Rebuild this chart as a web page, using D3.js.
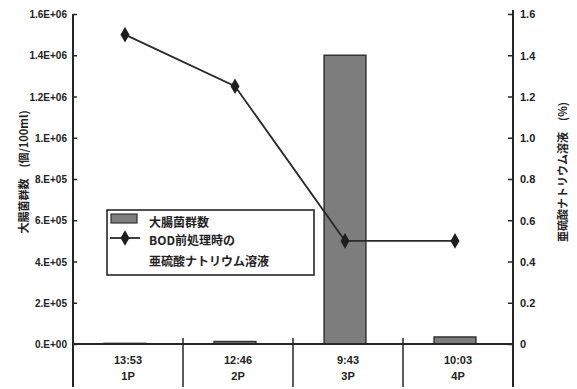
<!DOCTYPE html>
<html>
<head>
<meta charset="utf-8">
<script src="https://cdn.jsdelivr.net/npm/d3@7"></script>
<style>
  html, body { margin: 0; padding: 0; background: #fff; }
  svg { display: block; font-family: "Noto Sans CJK JP", "DejaVu Sans", sans-serif; }
  .tick text { fill: #222; }
</style>
</head>
<body>
<svg id="chart" width="577" height="389"></svg>
<script>
// Sampling points: time of sampling and point id
const sampleTimes = ["13:53", "12:46", "9:43", "10:03"];
const samplePoints = ["1P", "2P", "3P", "4P"];

// Coliform count (per 100 ml), bars on the left axis
const coliformCounts = [3000, 12000, 1400000, 34000];

// Sodium sulfite solution added during BOD pretreatment (%), line on the right axis
const sulfiteAdded = [1.5, 1.25, 0.5, 0.5];

// Axis ticks
const leftTickValues = [0, 200000, 400000, 600000, 800000, 1000000, 1200000, 1400000, 1600000];
const leftTickLabels = ["0.E+00", "2.E+05", "4.E+05", "6.E+05", "8.E+05", "1.E+06", "1.2E+06", "1.4E+06", "1.6E+06"];
const rightTickValues = [0, 0.2, 0.4, 0.6, 0.8, 1.0, 1.2, 1.4, 1.6];
const rightTickLabels = ["0", "0.2", "0.4", "0.6", "0.8", "1.0", "1.2", "1.4", "1.6"];

const legendBarLabel = "大腸菌群数";
const legendLineLabel = ["BOD前処理時の", "亜硫酸ナトリウム溶液"];
const leftTitle = "大腸菌群数　(個/100ml)";
const rightTitle = "亜硫酸ナトリウム溶液　(%)";

const svg = d3.select("#chart");
const plot = { left: 73, right: 513, top: 14, bottom: 344 };
const ink = "#262626";

const x = d3.scaleBand().domain(samplePoints).range([plot.left, plot.right]);
const yLeft = d3.scaleLinear().domain([0, 1600000]).range([plot.bottom, plot.top]);
const yRight = d3.scaleLinear().domain([0, 1.6]).range([plot.bottom, plot.top]);

// Bars
const barW = x.bandwidth() * 0.38;
svg.append("g").selectAll("rect").data(coliformCounts).join("rect")
  .attr("x", (d, i) => x(samplePoints[i]) + x.bandwidth() / 2 - barW / 2 - 3)
  .attr("y", d => yLeft(d))
  .attr("width", barW)
  .attr("height", d => yLeft(0) - yLeft(d))
  .attr("fill", "#7d7d7d")
  .attr("stroke", "#333")
  .attr("stroke-width", 1.5);

// Left axis
const axL = svg.append("g").attr("transform", `translate(${plot.left},0)`)
  .call(d3.axisLeft(yLeft).tickValues(leftTickValues)
    .tickFormat((d, i) => leftTickLabels[i]).tickSizeInner(-4).tickSizeOuter(0).tickPadding(6));
axL.select(".domain").remove();
axL.selectAll("line").attr("stroke", ink).attr("stroke-width", 1.5);
axL.selectAll("text").attr("font-size", 10).attr("font-weight", "bold").attr("font-family", "Liberation Sans Narrow, Liberation Sans, sans-serif").attr("dy", "0.35em");
svg.append("line").attr("x1", plot.left).attr("x2", plot.left)
  .attr("y1", plot.top).attr("y2", 387).attr("stroke", ink).attr("stroke-width", 2);

// Right axis
const axR = svg.append("g").attr("transform", `translate(${plot.right},0)`)
  .call(d3.axisRight(yRight).tickValues(rightTickValues)
    .tickFormat((d, i) => rightTickLabels[i]).tickSizeInner(-5).tickSizeOuter(0).tickPadding(7));
axR.select(".domain").remove();
axR.selectAll("line").attr("stroke", ink).attr("stroke-width", 1.5);
axR.selectAll("text").attr("font-size", 11).attr("font-weight", "bold").attr("font-family", "Liberation Sans Narrow, Liberation Sans, sans-serif").attr("dy", "0.35em");
svg.append("line").attr("x1", plot.right).attr("x2", plot.right)
  .attr("y1", 10).attr("y2", 387).attr("stroke", ink).attr("stroke-width", 2);

// Baseline and category separators
svg.append("line").attr("x1", plot.left).attr("x2", plot.right)
  .attr("y1", plot.bottom).attr("y2", plot.bottom).attr("stroke", ink).attr("stroke-width", 2);
const bounds = samplePoints.slice(1).map(p => x(p));
svg.append("g").selectAll("line").data(bounds).join("line")
  .attr("x1", d => d).attr("x2", d => d)
  .attr("y1", plot.bottom - 6).attr("y2", 387)
  .attr("stroke", ink).attr("stroke-width", 1.5);

// Category labels (time + point)
const axB = svg.append("g").attr("transform", `translate(0,${plot.bottom})`)
  .call(d3.axisBottom(x).tickSize(0).tickFormat(() => ""));
axB.select(".domain").remove();
axB.selectAll(".tick").each(function (d, i) {
  const t = d3.select(this).append("text").attr("fill", "#222")
    .attr("text-anchor", "middle").attr("font-size", 11).attr("font-weight", "bold")
    .attr("font-family", "Liberation Sans Narrow, Liberation Sans, sans-serif");
  t.append("tspan").attr("x", 0).attr("y", 20).text(sampleTimes[i]);
  t.append("tspan").attr("x", 0).attr("y", 36).text(samplePoints[i]);
});

// Line series
const cx = p => x(p) + x.bandwidth() / 2;
const line = d3.line().x((d, i) => cx(samplePoints[i]) - 3).y(d => yRight(d));
svg.append("path").datum(sulfiteAdded).attr("d", line)
  .attr("fill", "none").attr("stroke", "#2a2a2a").attr("stroke-width", 1.8);
const diamond = d3.symbol().type(d3.symbolDiamond).size(70);
svg.append("g").selectAll("path").data(sulfiteAdded).join("path")
  .attr("d", diamond)
  .attr("transform", (d, i) => `translate(${cx(samplePoints[i]) - 3},${yRight(d)})`)
  .attr("fill", "#1e1e1e");

// Axis titles
svg.append("text").attr("transform", "translate(28,172) rotate(-90)")
  .attr("text-anchor", "middle").attr("font-size", 11).attr("font-weight", "bold")
  .attr("fill", "#222").text(leftTitle);
svg.append("text").attr("transform", "translate(567,172) rotate(-90)")
  .attr("text-anchor", "middle").attr("font-size", 11).attr("font-weight", "bold")
  .attr("fill", "#222").text(rightTitle);

// Legend
const lg = svg.append("g");
lg.append("rect").attr("x", 107).attr("y", 210).attr("width", 207).attr("height", 65)
  .attr("fill", "#fff").attr("stroke", ink).attr("stroke-width", 1.6);
lg.append("rect").attr("x", 111).attr("y", 214).attr("width", 26).attr("height", 9)
  .attr("fill", "#7d7d7d").attr("stroke", "#333").attr("stroke-width", 1.2);
lg.append("line").attr("x1", 110).attr("x2", 140).attr("y1", 238).attr("y2", 238)
  .attr("stroke", "#2a2a2a").attr("stroke-width", 1.8);
lg.append("path").attr("d", diamond).attr("transform", "translate(125,238)").attr("fill", "#1e1e1e");
const lt = lg.append("text").attr("font-size", 12).attr("font-weight", "bold").attr("fill", "#222");
lt.append("tspan").attr("x", 149).attr("y", 227).text(legendBarLabel);
lt.append("tspan").attr("x", 149).attr("y", 245).text(legendLineLabel[0]);
lt.append("tspan").attr("x", 149).attr("y", 266).text(legendLineLabel[1]);
</script>
</body>
</html>
